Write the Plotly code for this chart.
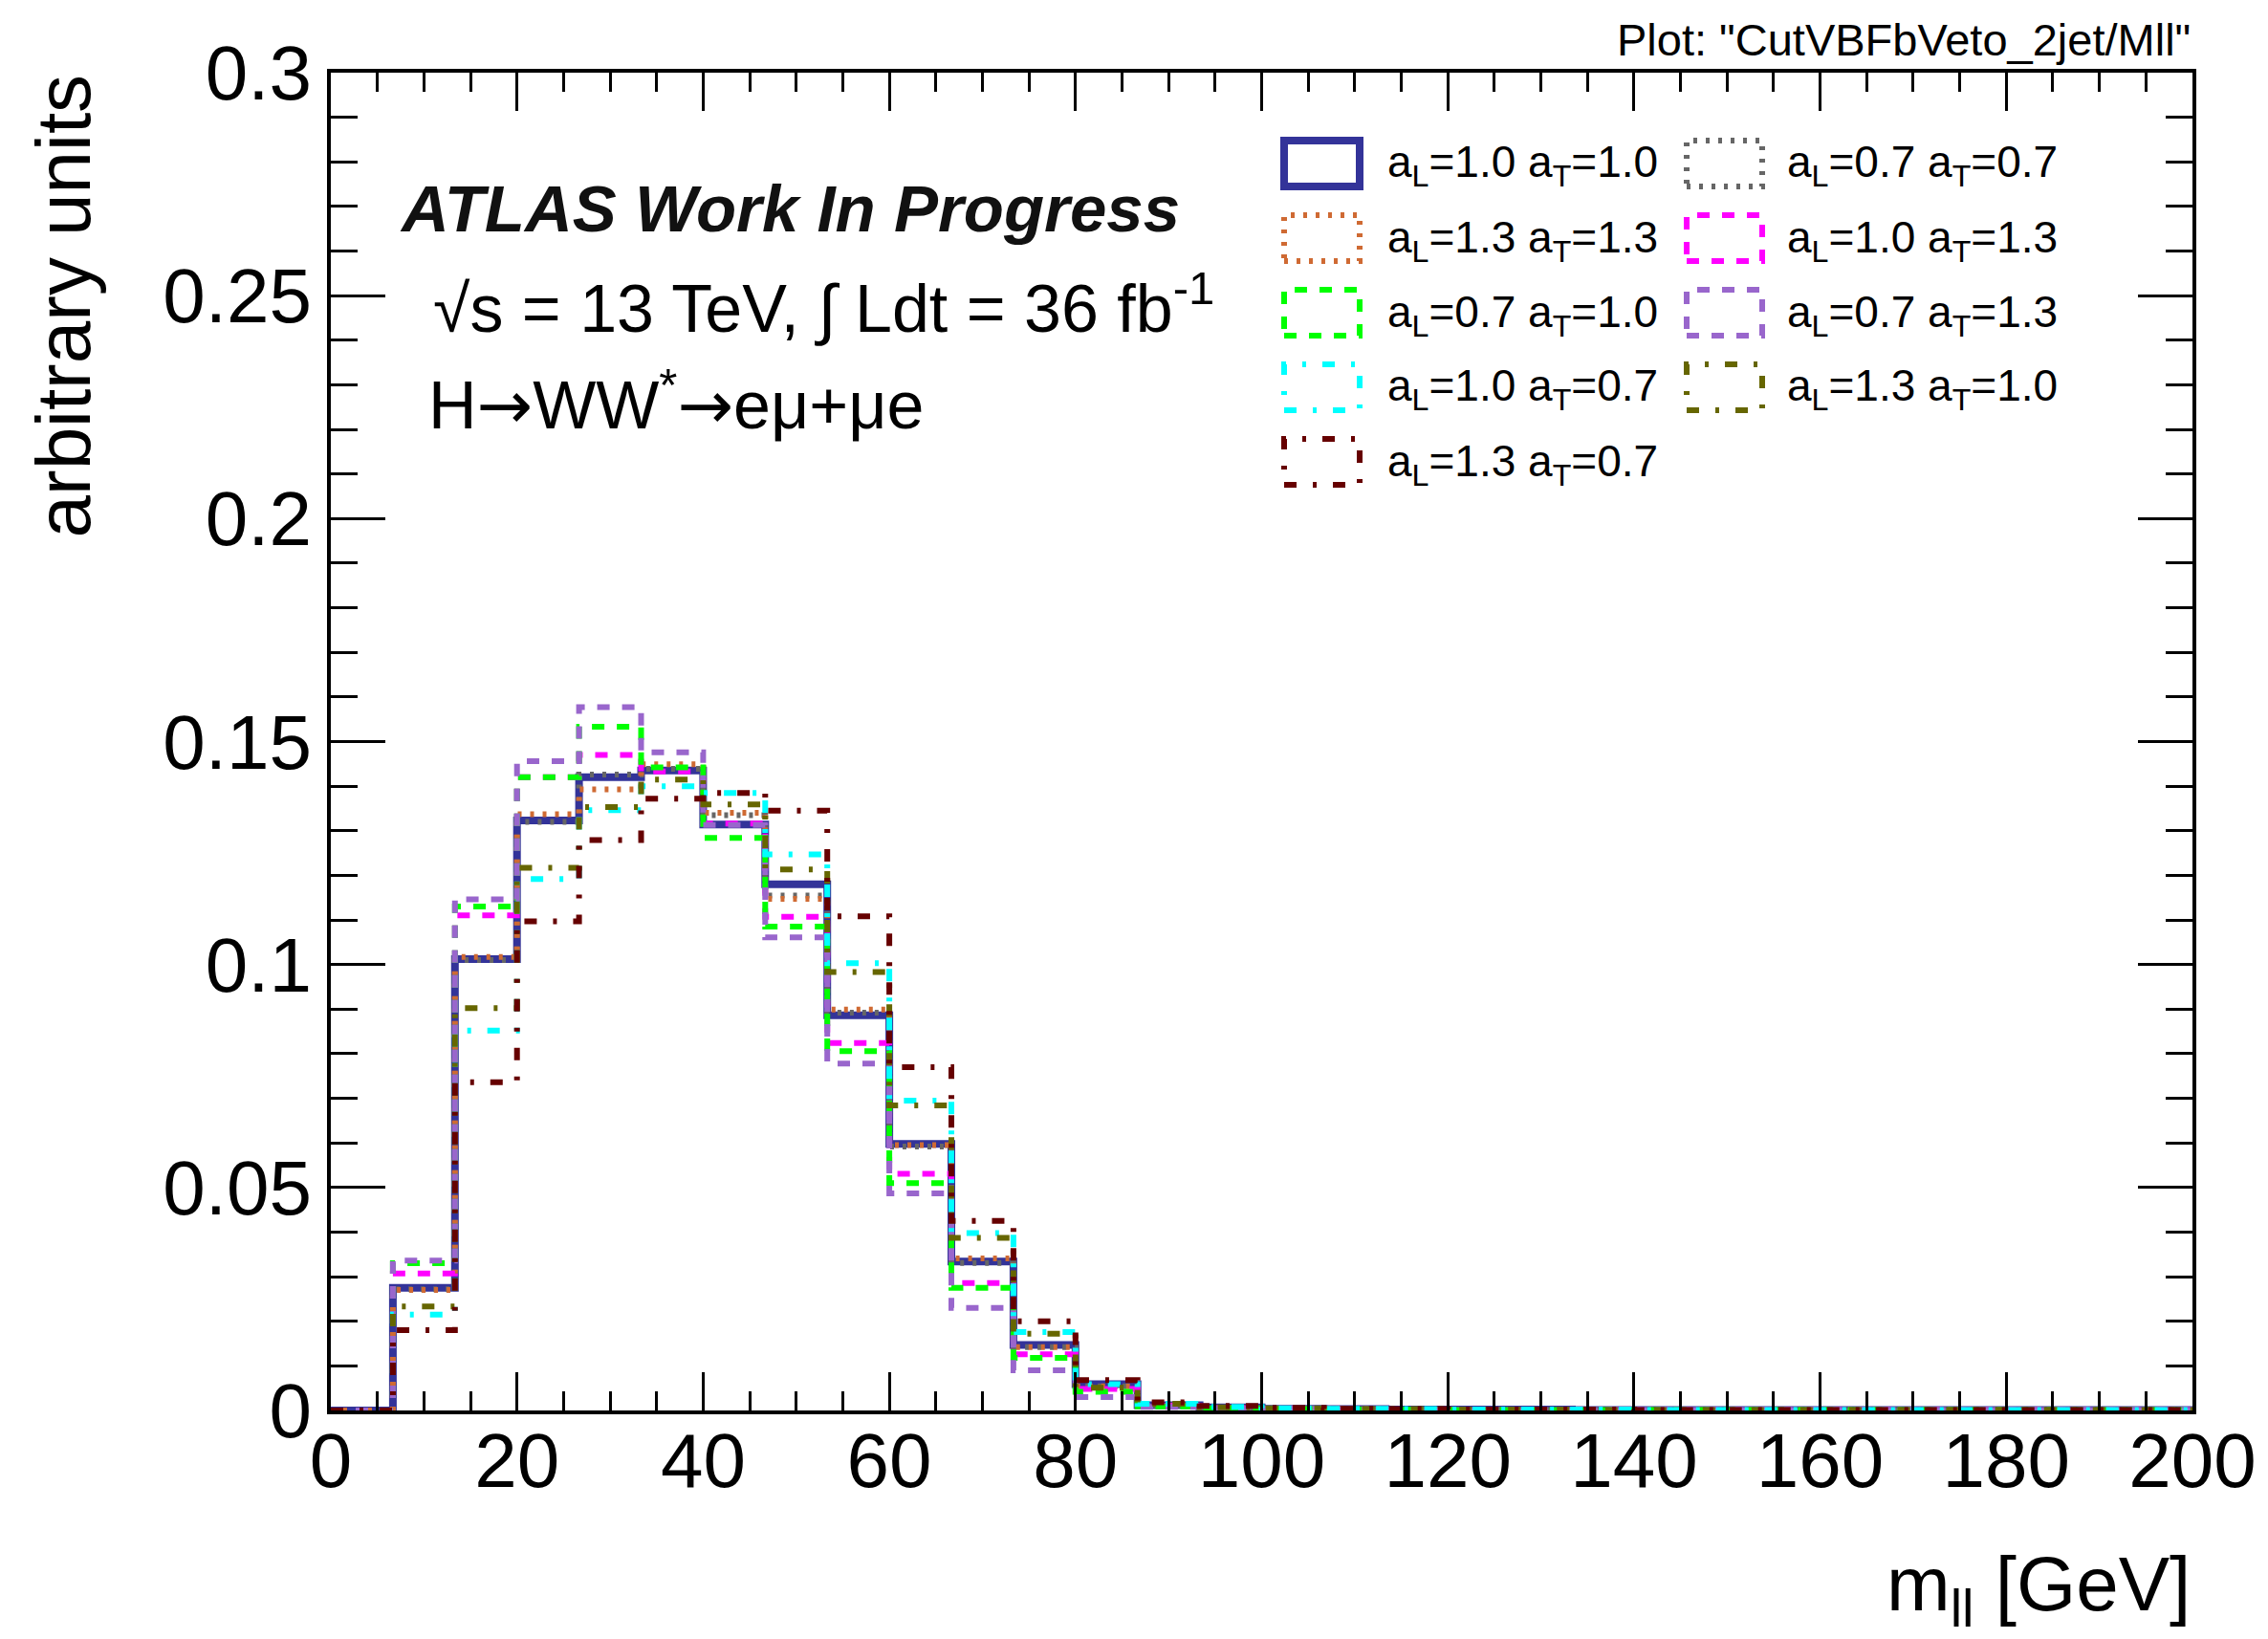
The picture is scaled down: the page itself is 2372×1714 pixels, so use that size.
import plotly.graph_objects as go

# ---------------- data ----------------
bin_edges = [i * 200.0 / 30 for i in range(31)]

series_names = [
    "a<sub>L</sub>=1.0 a<sub>T</sub>=1.0",
    "a<sub>L</sub>=0.7 a<sub>T</sub>=0.7",
    "a<sub>L</sub>=1.3 a<sub>T</sub>=1.3",
    "a<sub>L</sub>=1.0 a<sub>T</sub>=1.3",
    "a<sub>L</sub>=0.7 a<sub>T</sub>=1.0",
    "a<sub>L</sub>=0.7 a<sub>T</sub>=1.3",
    "a<sub>L</sub>=1.0 a<sub>T</sub>=0.7",
    "a<sub>L</sub>=1.3 a<sub>T</sub>=1.0",
    "a<sub>L</sub>=1.3 a<sub>T</sub>=0.7",
]

aL10_aT10 = [0, 0.0275, 0.1012, 0.1323, 0.1420, 0.1435, 0.1314, 0.1180, 0.0886, 0.0598,
             0.0334, 0.0147, 0.0059, 0.0012, 0.0007, 0.0004, 0.0003, 0.0002, 0.0002, 0.0002,
             0.0001, 0.0001, 0.0001, 0.0001, 0.0001, 0.0001, 0.0001, 0.0001, 0.0001, 0.0001]
aL07_aT07 = [0, 0.0272, 0.1010, 0.1320, 0.1426, 0.1439, 0.1335, 0.1155, 0.0892, 0.0592,
             0.0331, 0.0142, 0.0054, 0.0011, 0.0006, 0.0004, 0.0003, 0.0002, 0.0002, 0.0001,
             0.0001, 0.0001, 0.0001, 0.0001, 0.0001, 0.0001, 0.0001, 0.0001, 0.0001, 0.0001]
aL13_aT13 = [0, 0.0270, 0.1017, 0.1337, 0.1393, 0.1449, 0.1340, 0.1147, 0.0899, 0.0595,
             0.0341, 0.0142, 0.0054, 0.0011, 0.0006, 0.0004, 0.0003, 0.0002, 0.0002, 0.0001,
             0.0001, 0.0001, 0.0001, 0.0001, 0.0001, 0.0001, 0.0001, 0.0001, 0.0001, 0.0001]
aL10_aT13 = [0, 0.0307, 0.1110, 0.1420, 0.1470, 0.1433, 0.1316, 0.1107, 0.0824, 0.0531,
             0.0286, 0.0126, 0.0048, 0.0010, 0.0005, 0.0003, 0.0002, 0.0002, 0.0001, 0.0001,
             0.0001, 0.0001, 0.0001, 0.0001, 0.0001, 0.0001, 0.0001, 0.0001, 0.0001, 0.0001]
aL07_aT10 = [0, 0.0330, 0.1130, 0.1420, 0.1533, 0.1442, 0.1284, 0.1085, 0.0806, 0.0510,
             0.0275, 0.0118, 0.0042, 0.0009, 0.0005, 0.0003, 0.0002, 0.0002, 0.0001, 0.0001,
             0.0001, 0.0001, 0.0001, 0.0001, 0.0001, 0.0001, 0.0001, 0.0001, 0.0001, 0.0001]
aL07_aT13 = [0, 0.0336, 0.1146, 0.1456, 0.1577, 0.1476, 0.1313, 0.1061, 0.0778, 0.0487,
             0.0230, 0.0090, 0.0030, 0.0008, 0.0004, 0.0003, 0.0002, 0.0001, 0.0001, 0.0001,
             0.0001, 0.0001, 0.0001, 0.0001, 0.0001, 0.0001, 0.0001, 0.0001, 0.0001, 0.0001]
aL10_aT07 = [0, 0.0215, 0.0852, 0.1192, 0.1346, 0.1400, 0.1385, 0.1247, 0.1003, 0.0695,
             0.0398, 0.0176, 0.0059, 0.0015, 0.0008, 0.0005, 0.0004, 0.0003, 0.0002, 0.0002,
             0.0002, 0.0001, 0.0001, 0.0001, 0.0001, 0.0001, 0.0001, 0.0001, 0.0001, 0.0001]
aL13_aT10 = [0, 0.0233, 0.0902, 0.1217, 0.1353, 0.1415, 0.1359, 0.1213, 0.0983, 0.0684,
             0.0387, 0.0172, 0.0051, 0.0015, 0.0007, 0.0005, 0.0003, 0.0003, 0.0002, 0.0002,
             0.0001, 0.0001, 0.0001, 0.0001, 0.0001, 0.0001, 0.0001, 0.0001, 0.0001, 0.0001]
aL13_aT07 = [0, 0.0180, 0.0736, 0.1097, 0.1279, 0.1372, 0.1385, 0.1345, 0.1108, 0.0770,
             0.0425, 0.0200, 0.0068, 0.0018, 0.0010, 0.0006, 0.0004, 0.0003, 0.0002, 0.0002,
             0.0002, 0.0001, 0.0001, 0.0001, 0.0001, 0.0001, 0.0001, 0.0001, 0.0001, 0.0001]

series_values = [aL10_aT10, aL07_aT07, aL13_aT13, aL10_aT13, aL07_aT10,
                 aL07_aT13, aL10_aT07, aL13_aT10, aL13_aT07]

x_tick_vals = [0, 20, 40, 60, 80, 100, 120, 140, 160, 180, 200]
y_tick_vals = [0, 0.05, 0.1, 0.15, 0.2, 0.25, 0.3]
y_tick_text = ["0", "0.05", "0.1", "0.15", "0.2", "0.25", "0.3"]

# ---------------- styles ----------------
DOT = "4px,9px"
DASH = "13px,13px"
DASHDOT = "13px,17px,4px,17px"
styles = [
    dict(color="#333399", width=8, dash="solid"),
    dict(color="#666666", width=6, dash=DOT),
    dict(color="#CF6A33", width=6, dash=DOT),
    dict(color="#FF00FF", width=6, dash=DASH),
    dict(color="#00FF00", width=6, dash=DASH),
    dict(color="#9966CC", width=6, dash=DASH),
    dict(color="#00FFFF", width=6, dash=DASHDOT),
    dict(color="#666600", width=6, dash=DASHDOT),
    dict(color="#660000", width=6, dash=DASHDOT),
]

FONT = "Liberation Sans, Arial, Helvetica, sans-serif"
W, H = 2372, 1714
L, R, T, B = 346, 2293, 76, 1475


def px_x(x):
    return (x - L) / (R - L)


def px_y(y):
    return (B - y) / (B - T)


fig = go.Figure()
for name, vals, st in zip(series_names, series_values, styles):
    fig.add_trace(go.Scatter(
        x=bin_edges,
        y=list(vals) + [vals[-1]],
        mode="lines",
        line=dict(shape="hv", color=st["color"], width=st["width"], dash=st["dash"]),
        name=name,
        showlegend=False,
        hoverinfo="skip",
    ))

# ---------------- manual ROOT-style legend ----------------
col_box_x = [(1343, 1422), (1764, 1843)]
col_text_x = [1449, 1867]
row_y = [171, 249, 327, 405, 483]
shapes = []
annotations = []
for i, (name, st) in enumerate(zip(series_names, styles)):
    col = i % 2
    row = i // 2
    x0, x1 = col_box_x[col]
    yc = row_y[row]
    shapes.append(dict(
        type="rect", xref="paper", yref="paper",
        x0=px_x(x0), x1=px_x(x1), y0=px_y(yc + 24), y1=px_y(yc - 24),
        line=dict(color=st["color"], width=st["width"], dash=st["dash"]),
        fillcolor="rgba(0,0,0,0)", layer="above",
    ))
    annotations.append(dict(
        xref="paper", yref="paper", x=px_x(col_text_x[col]), y=px_y(yc + 2),
        xanchor="left", yanchor="middle", showarrow=False,
        text=name, font=dict(family=FONT, size=46, color="black"),
    ))

ARROW = '<span style="font-family:DejaVu Sans">→</span>'
annotations += [
    dict(xref="paper", yref="paper", x=px_x(416), y=px_y(219), xanchor="left", yanchor="middle",
         showarrow=False, text="<b><i>ATLAS Work In Progress</i></b>",
         font=dict(family=FONT, size=69, color="#111111")),
    dict(xref="paper", yref="paper", x=px_x(451), y=px_y(318), xanchor="left", yanchor="middle",
         showarrow=False, text="√s = 13 TeV, ∫ Ldt = 36 fb<sup>-1</sup>",
         font=dict(family=FONT, size=70, color="black")),
    dict(xref="paper", yref="paper", x=px_x(446), y=px_y(420), xanchor="left", yanchor="middle",
         showarrow=False, text="H" + ARROW + "WW<sup>*</sup>" + ARROW + "eμ+μe",
         font=dict(family=FONT, size=70, color="black")),
    dict(xref="paper", yref="paper", x=1.0, y=px_y(41), xanchor="right", yanchor="middle",
         showarrow=False, text='Plot: "CutVBFbVeto_2jet/Mll"',
         font=dict(family=FONT, size=47, color="black")),
    dict(xref="paper", yref="paper", x=px_x(66), y=1.0, xanchor="center", yanchor="top",
         showarrow=False, text="arbitrary units", textangle=-90,
         font=dict(family=FONT, size=80, color="black")),
    dict(xref="paper", yref="paper", x=1.0, y=px_y(1662), xanchor="right", yanchor="middle",
         showarrow=False, text="m<sub>ll</sub> [GeV]",
         font=dict(family=FONT, size=80, color="black")),
]

fig.update_layout(
    width=W, height=H,
    margin=dict(l=L, r=W - R, t=T, b=H - B, pad=0),
    paper_bgcolor="white", plot_bgcolor="white",
    font=dict(family=FONT, size=80, color="black"),
    shapes=shapes, annotations=annotations,
    xaxis=dict(
        range=[0, 200], tickvals=x_tick_vals,
        ticks="inside", ticklen=40, tickwidth=3, tickcolor="black",
        minor=dict(ticks="inside", dtick=5, ticklen=20, tickwidth=3, tickcolor="black", showgrid=False),
        showline=True, linewidth=4, linecolor="black", mirror="allticks",
        showgrid=False, zeroline=False, ticklabelstandoff=-20,
        tickfont=dict(family=FONT, size=80, color="black"),
    ),
    yaxis=dict(
        range=[0, 0.3], tickvals=y_tick_vals, ticktext=y_tick_text,
        ticks="inside", ticklen=57, tickwidth=3, tickcolor="black",
        minor=dict(ticks="inside", dtick=0.01, ticklen=28, tickwidth=3, tickcolor="black", showgrid=False),
        showline=True, linewidth=4, linecolor="black", mirror="allticks",
        showgrid=False, zeroline=False,
        tickfont=dict(family=FONT, size=80, color="black"),
    ),
)

fig.write_html("out.html")
